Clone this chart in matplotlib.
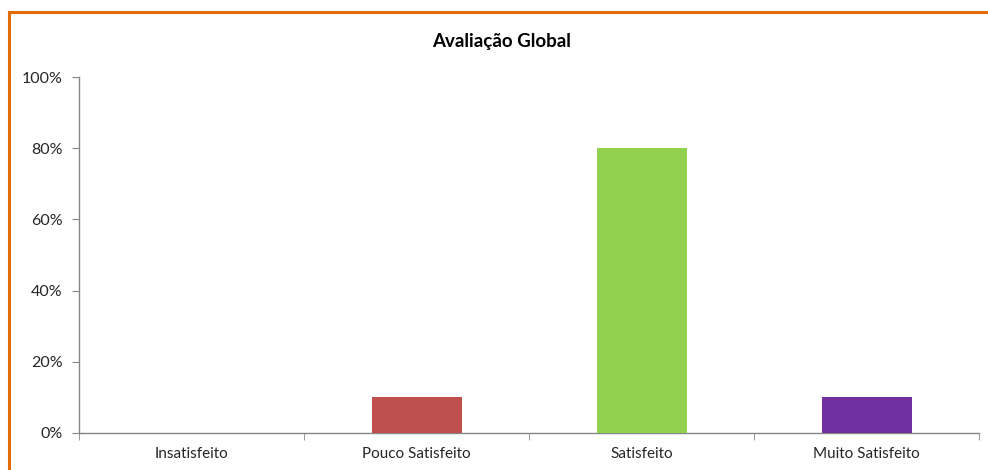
import numpy as np
import matplotlib.pyplot as plt
from matplotlib.lines import Line2D
from matplotlib.ticker import PercentFormatter

# Avaliação global - percentagens por nível de satisfação
categorias = ['Insatisfeito', 'Pouco Satisfeito', 'Satisfeito', 'Muito Satisfeito']
valores = [0, 10, 80, 10]
cores = ['#4F81BD', '#C0504D', '#92D050', '#7030A0']

plt.rcParams['font.family'] = ['Lato', 'DejaVu Sans']

fig = plt.figure(figsize=(9.88, 4.70), dpi=100)
ax = fig.add_axes([79 / 988, 37 / 470, 900 / 988, 356 / 470])

x = np.arange(len(categorias))
ax.bar(x, valores, width=0.4, color=cores, zorder=3)

ax.set_xlim(-0.5, len(categorias) - 0.5)
ax.set_ylim(0, 100)
ax.set_yticks(np.arange(0, 101, 20))
ax.yaxis.set_major_formatter(PercentFormatter(decimals=0))
ax.set_xticks(x)
ax.set_xticklabels(categorias, fontsize=11, color='#262626')
ax.tick_params(axis='x', length=0, pad=10)
ax.set_xticks(np.arange(-0.5, len(categorias)), minor=True)
ax.tick_params(axis='x', which='minor', length=5, color='#868686')
ax.tick_params(axis='y', length=5, color='#868686', labelsize=11.5, labelcolor='#262626', pad=7)

for side in ['top', 'right']:
    ax.spines[side].set_visible(False)
for side in ['left', 'bottom']:
    ax.spines[side].set_color('#868686')
    ax.spines[side].set_linewidth(1)

fig.text(0.508, 1 - 41 / 470, 'Avaliação Global', ha='center', va='center',
         fontsize=13.5, fontweight='bold', color='#000000')

# moldura laranja do gráfico
fig.add_artist(Line2D([9 / 988, 1], [1 - 12 / 470, 1 - 12 / 470], color='#E36C09', lw=2.2,
                      transform=fig.transFigure))
fig.add_artist(Line2D([9 / 988, 9 / 988], [0, 1 - 12 / 470], color='#E36C09', lw=2.2,
                      transform=fig.transFigure))

fig.savefig('out.png', dpi=100)
